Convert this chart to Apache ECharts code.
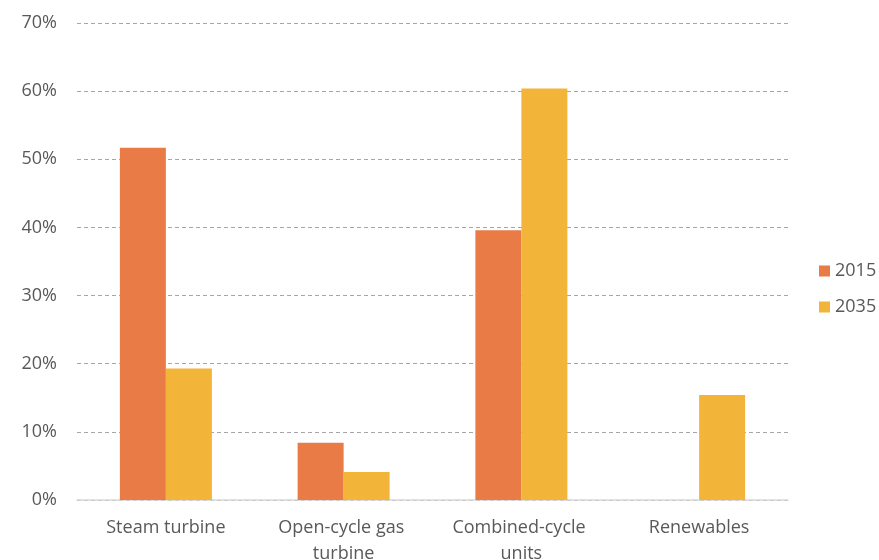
<!DOCTYPE html>
<html>
<head>
<meta charset="utf-8">
<script src="https://cdn.jsdelivr.net/npm/echarts@6/dist/echarts.min.js"></script>
<style>html,body{margin:0;padding:0;background:#fff}#c{width:879px;height:560px}</style>
</head>
<body>
<div id="c"></div>
<script>
const categories = ["Steam turbine", "Open-cycle gas turbine", "Combined-cycle units", "Renewables"];
const seriesNames = ["2015", "2035"];
const values2015 = [51.7, 8.4, 39.6, null];
const values2035 = [19.3, 4.1, 60.4, 15.4];
const yTicks = [0, 10, 20, 30, 40, 50, 60, 70];

const font = "'Open Sans', 'Noto Sans', sans-serif";
const chart = echarts.init(document.getElementById('c'), null, {renderer: 'canvas'});
chart.setOption({
  animation: false,
  backgroundColor: '#fff',
  grid: {left: 77, right: 91, top: 23, bottom: 60, containLabel: false, outerBoundsMode: 'none'},
  legend: {
    orient: 'vertical',
    left: 819, top: 262,
    padding: 0,
    itemWidth: 11, itemHeight: 11, itemGap: 18,
    icon: 'rect',
    textStyle: {fontFamily: font, fontSize: 18, color: '#595959'},
    data: seriesNames
  },
  xAxis: {
    type: 'category',
    data: categories,
    axisLine: {lineStyle: {color: '#d9d9d9', width: 1.5}},
    axisTick: {show: false},
    axisLabel: {fontFamily: font, fontSize: 18, color: '#595959', margin: 15, width: 165, overflow: 'break', lineHeight: 26, interval: 0}
  },
  yAxis: {
    type: 'value',
    min: yTicks[0], max: yTicks[yTicks.length-1], interval: 10,
    axisLine: {show: false},
    axisTick: {show: false},
    axisLabel: {fontFamily: font, fontSize: 18, color: '#595959', margin: 20, formatter: v => v + '%'},
    splitLine: {lineStyle: {color: '#a6a6a6', type: [4, 3], width: 1}}
  },
  series: [
    {name: seriesNames[0], type: 'bar', data: values2015, barWidth: 46, barGap: '0%', itemStyle: {color: '#E97B47'}},
    {name: seriesNames[1], type: 'bar', data: values2035, barWidth: 46, barGap: '0%', itemStyle: {color: '#F3B43A'}}
  ]
});
</script>
</body>
</html>
